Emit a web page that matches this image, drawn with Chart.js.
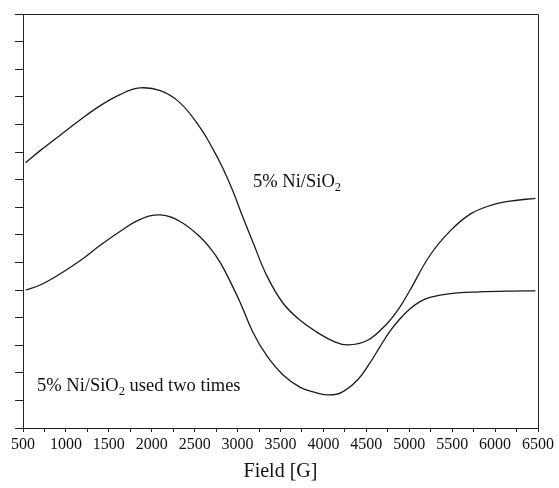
<!DOCTYPE html>
<html>
<head>
<meta charset="utf-8">
<script src="https://cdn.jsdelivr.net/npm/chart.js@4.4.1/dist/chart.umd.min.js"></script>
<style>
  html, body { margin: 0; padding: 0; background: #fff; }
  #wrap { width: 559px; height: 488px; }
</style>
</head>
<body>
<div id="wrap"><canvas id="epr"></canvas></div>
<script>
// EPR spectra
const fieldUpper = [530, 700, 930, 1160, 1400, 1630, 1860, 2100, 2330, 2560, 2710, 2830, 2950, 3060, 3180, 3340, 3530, 3730, 3960, 4120, 4280, 4510, 4740, 4890, 5010, 5240, 5480, 5710, 5940, 6170, 6470];
const signalUpper = [9.61, 10.05, 10.60, 11.15, 11.68, 12.08, 12.32, 12.22, 11.78, 10.90, 10.12, 9.40, 8.55, 7.65, 6.72, 5.52, 4.52, 3.90, 3.40, 3.14, 3.01, 3.17, 3.78, 4.38, 5.00, 6.25, 7.15, 7.75, 8.06, 8.22, 8.32];

const fieldLower = [530, 700, 930, 1160, 1400, 1630, 1860, 2100, 2330, 2560, 2710, 2800, 2880, 3030, 3180, 3340, 3530, 3730, 3900, 4040, 4200, 4400, 4540, 4660, 4770, 4890, 5010, 5120, 5240, 5480, 5820, 6170, 6470];
const signalLower = [5.0, 5.18, 5.58, 6.05, 6.62, 7.12, 7.55, 7.72, 7.48, 6.93, 6.40, 5.98, 5.52, 4.55, 3.46, 2.62, 1.92, 1.47, 1.29, 1.20, 1.27, 1.75, 2.35, 2.95, 3.48, 3.95, 4.32, 4.57, 4.73, 4.87, 4.93, 4.96, 4.97];

const seriesNames = ["5% Ni/SiO2", "5% Ni/SiO2 used two times"];
const xTicks = [500, 1000, 1500, 2000, 2500, 3000, 3500, 4000, 4500, 5000, 5500, 6000, 6500];

const serif = "'Liberation Serif', 'DejaVu Serif', serif";

function toPoints(xs, ys) {
    return xs.map((x, i) => ({ x: x, y: ys[i] }));
}

// curve labels, drawn at data positions with a subscript 2
const curveLabels = {
    id: "curveLabels",
    afterDatasetsDraw(chart) {
        const ctx = chart.ctx;
        const xs = chart.scales.x;
        const ys = chart.scales.y;
        const items = [
            { x: 3180, y: 8.73, pre: "5% Ni/SiO", post: "" },
            { x: 663, y: 1.34, pre: "5% Ni/SiO", post: " used two times" }
        ];
        ctx.save();
        ctx.fillStyle = "#111";
        ctx.textBaseline = "alphabetic";
        ctx.textAlign = "left";
        items.forEach(it => {
            let px = xs.getPixelForValue(it.x);
            const py = ys.getPixelForValue(it.y);
            ctx.font = "18.5px " + serif;
            ctx.fillText(it.pre, px, py);
            px += ctx.measureText(it.pre).width;
            ctx.font = "12.5px " + serif;
            ctx.fillText("2", px, py + 4);
            px += ctx.measureText("2").width;
            ctx.font = "18.5px " + serif;
            ctx.fillText(it.post, px, py);
        });
        ctx.restore();
    }
};

// top and right frame lines
const frame = {
    id: "frame",
    beforeDatasetsDraw(chart) {
        const a = chart.chartArea;
        const ctx = chart.ctx;
        ctx.save();
        ctx.strokeStyle = "#222";
        ctx.lineWidth = 1;
        ctx.beginPath();
        ctx.moveTo(a.left, Math.round(a.top) + 0.5);
        ctx.lineTo(Math.round(a.right) + 0.5, Math.round(a.top) + 0.5);
        ctx.lineTo(Math.round(a.right) + 0.5, a.bottom);
        ctx.stroke();
        ctx.restore();
    }
};

new Chart(document.getElementById("epr"), {
    type: "line",
    data: {
        datasets: [
            {
                label: seriesNames[0],
                data: toPoints(fieldUpper, signalUpper),
                borderColor: "#1a1a1a",
                borderWidth: 1.3,
                pointRadius: 0,
                fill: false,
                tension: 0.4
            },
            {
                label: seriesNames[1],
                data: toPoints(fieldLower, signalLower),
                borderColor: "#1a1a1a",
                borderWidth: 1.3,
                pointRadius: 0,
                fill: false,
                tension: 0.4
            }
        ]
    },
    options: {
        responsive: true,
        maintainAspectRatio: false,
        animation: false,
        layout: {
            padding: { top: 14, right: 21, left: 0, bottom: 0 }
        },
        plugins: {
            legend: { display: false },
            tooltip: { enabled: false }
        },
        scales: {
            x: {
                type: "linear",
                min: 500,
                max: 6500,
                afterFit: s => { s.height = 60; },
                afterBuildTicks: s => {
                    const t = [];
                    for (let v = 500; v <= 6500; v += 250) t.push({ value: v });
                    s.ticks = t;
                },
                ticks: {
                    autoSkip: false,
                    maxRotation: 0,
                    padding: 3,
                    color: "#111",
                    font: { family: serif, size: 16 },
                    callback: v => xTicks.includes(v) ? String(v) : ""
                },
                grid: {
                    drawOnChartArea: false,
                    drawTicks: true,
                    tickLength: 4,
                    color: "#222"
                },
                border: { display: true, color: "#222", width: 1 },
                title: {
                    display: true,
                    text: "Field [G]",
                    color: "#111",
                    font: { family: serif, size: 20 },
                    padding: { top: 0 }
                }
            },
            y: {
                min: 0,
                max: 15,
                afterFit: s => { s.width = 23; },
                ticks: { display: false, stepSize: 1 },
                grid: {
                    drawOnChartArea: false,
                    drawTicks: true,
                    tickLength: 8,
                    color: "#222"
                },
                border: { display: true, color: "#222", width: 1 }
            }
        }
    },
    plugins: [frame, curveLabels]
});
</script>
</body>
</html>
